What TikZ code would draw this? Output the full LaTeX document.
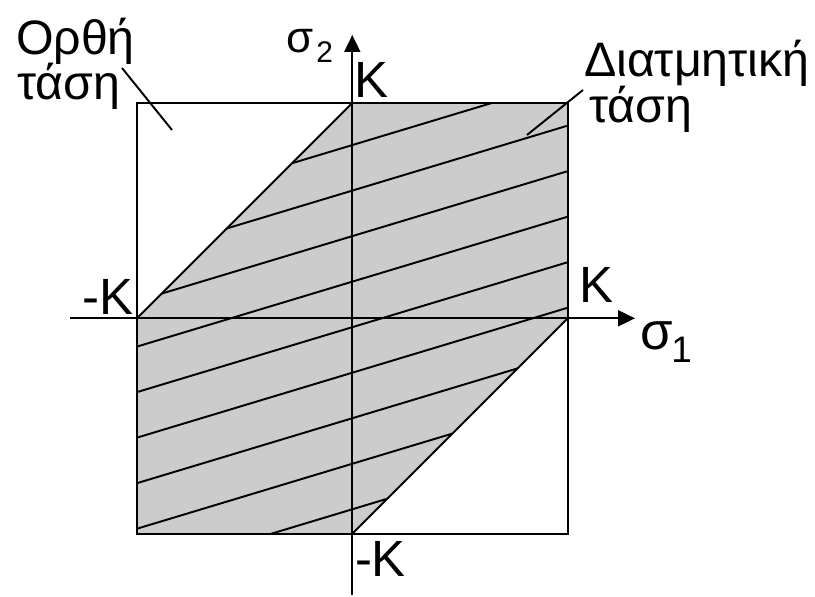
\documentclass[tikz,border=0pt]{standalone}
\usepackage{fontspec}
\setmainfont{Liberation Sans}
\usetikzlibrary{arrows.meta}
\definecolor{fillgray}{RGB}{204,204,204}
\tikzset{
  ln/.style={line width=1.1pt, black},
  axis/.style={line width=1.1pt, -{Triangle[length=0.34cm,width=0.32cm]}},
  lbl/.style={inner sep=0pt, outer sep=0pt, anchor=base west, font=\fontsize{27.5}{27.5}\selectfont},
  klbl/.style={inner sep=0pt, outer sep=0pt, font=\fontsize{29}{29}\selectfont},
}
\begin{document}
\begin{tikzpicture}[x=0.02cm, y=-0.02cm]
\useasboundingbox (0,0) rectangle (815,597);
\begin{scope}[shift={(352.3,318.3)}, x=4.31cm, y=4.31cm]
  \coordinate (h1) at (-1,0);
  \coordinate (h2) at (0,1);
  \coordinate (h3) at (1,1);
  \coordinate (h4) at (1,0);
  \coordinate (h5) at (0,-1);
  \coordinate (h6) at (-1,-1);
  \fill[fillgray] (h1) -- (h2) -- (h3) -- (h4) -- (h5) -- (h6) -- cycle;
  \begin{scope}
    \clip (h1) -- (h2) -- (h3) -- (h4) -- (h5) -- (h6) -- cycle;
    \foreach \k in {0,...,8} {
      \pgfmathsetmacro{\b}{0.804-0.2113*\k}
      \draw[ln] (-1.2,{0.3016*(-1.2)+\b}) -- (1.2,{0.3016*1.2+\b});
    }
  \end{scope}
  \draw[ln] (h1) -- (h2);
  \draw[ln] (h4) -- (h5);
  \coordinate (sqa) at (-1,-1);
  \coordinate (sqb) at (1,1);
  \draw[ln] (sqa) rectangle (sqb);
\end{scope}
% axes
\coordinate (xs) at (70,318.3);
\coordinate (xe) at (635,318.3);
\coordinate (ys) at (352.3,595);
\coordinate (ye) at (352.3,35);
\draw[axis] (xs) -- (xe);
\draw[axis] (ys) -- (ye);
% axis labels
\node[klbl, anchor=base west] (ktop) at (354,98) {K};
\node[klbl, anchor=base east] (kleft) at (133,315) {-K};
\node[klbl, anchor=base west] (kright) at (579,303) {K};
\node[klbl, anchor=base west] (kbot) at (355,577) {-K};
\node[inner sep=0pt, anchor=base west, font=\fontsize{30}{30}\selectfont] (s1) at (640,350) {σ};
\node[inner sep=0pt, anchor=base west, font=\fontsize{21}{21}\selectfont] (s1i) at (671,363) {1};
\node[inner sep=0pt, anchor=base west, font=\fontsize{25}{25}\selectfont] (s2) at (286,53) {σ};
\node[inner sep=0pt, anchor=base west, font=\fontsize{17}{17}\selectfont] (s2i) at (316,63) {2};
% region labels
\node[lbl] (o1) at (16,55) {Ορθή};
\node[lbl] (o2) at (17,100) {τάση};
\node[lbl] (d1) at (584,77) {Διατμητική};
\node[lbl] (d2) at (589,123) {τάση};
% leaders
\coordinate (lo1) at (122,68);
\coordinate (lo2) at (172,130);
\draw[ln] (lo1) -- (lo2);
\coordinate (ld1) at (583,90);
\coordinate (ld2) at (527,135);
\draw[ln] (ld1) -- (ld2);
\end{tikzpicture}
\end{document}
